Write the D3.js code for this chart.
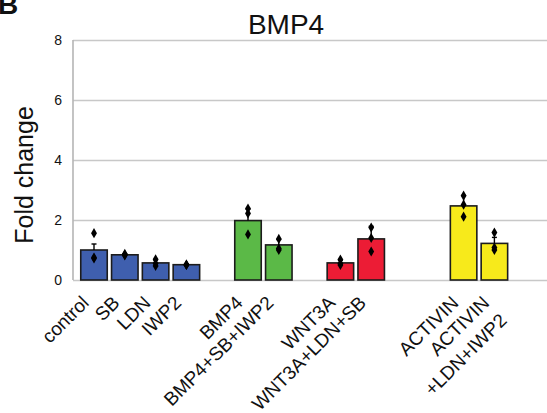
<!DOCTYPE html>
<html>
<head>
<meta charset="utf-8">
<script src="https://cdn.jsdelivr.net/npm/d3@7"></script>
<style>
  body { margin: 0; background: #fff; }
  text { font-family: "Liberation Sans", Arial, sans-serif; fill: #111; }
</style>
</head>
<body>
<div id="chart"></div>
<script>
// Chart data
var categories = ["control", "SB", "LDN", "IWP2", "BMP4", "BMP4+SB+IWP2",
                  "WNT3A", "WNT3A+LDN+SB", "ACTIVIN", "ACTIVIN\n+LDN+IWP2"];
var groups = ["base", "base", "base", "base", "bmp", "bmp", "wnt", "wnt", "act", "act"];
var foldChange = [1.0, 0.84, 0.57, 0.51, 1.98, 1.17, 0.57, 1.37, 2.47, 1.22];
var errors = [0.2, 0.03, 0.1, 0.03, 0.38, 0.18, 0.09, 0.42, 0.35, 0.2];
var replicates = [
    [1.56, 0.75, 0.72],
    [0.87, 0.84, 0.82],
    [0.69, 0.55, 0.47],
    [0.52, 0.50, 0.50],
    [2.38, 2.22, 1.52],
    [1.37, 1.05, 1.0],
    [0.68, 0.55, 0.5],
    [1.75, 1.4, 0.95],
    [2.81, 2.51, 2.11],
    [1.58, 1.08, 1.0]
];
var yTicks = [0, 2, 4, 6, 8];
var groupColors = { base: "#3f5fae", bmp: "#5bb947", wnt: "#ec1c35", act: "#f7ea1b" };

var width = 547;
var height = 413;
var margin = { top: 40, right: 0, bottom: 133, left: 73 };

// empty slots between the groups
var gapsBefore = { bmp: 1, wnt: 1, act: 2 };
var slots = [];
categories.forEach(function (c, i) {
    if (i > 0 && groups[i] !== groups[i - 1]) {
        for (var g = 0; g < gapsBefore[groups[i]]; g++) slots.push("gap" + i + "_" + g);
    }
    slots.push(c);
});

var svg = d3.select("#chart")
    .append("svg")
    .attr("width", width)
    .attr("height", height);

var x = d3.scaleBand()
    .domain(slots)
    .range([78.6, 509.8])
    .paddingInner(0.14)
    .paddingOuter(0.07);

var y = d3.scaleLinear()
    .domain([0, 8])
    .range([height - margin.bottom, margin.top]);

// gridlines + tick labels
var yAxis = d3.axisLeft(y)
    .tickValues(yTicks)
    .tickSize(-(width - margin.left))
    .tickPadding(11)
    .tickFormat(d3.format("d"));

var gy = svg.append("g")
    .attr("transform", "translate(" + margin.left + ",0)")
    .call(yAxis);
gy.select(".domain").remove();
gy.selectAll(".tick line")
    .attr("stroke", "#c8c8c8")
    .attr("stroke-width", 1.6);
gy.selectAll(".tick text")
    .style("font-size", "14px")
    .style("font-family", "Liberation Sans, Arial, sans-serif")
    .attr("fill", "#111");

// left axis line
svg.append("line")
    .attr("x1", margin.left).attr("x2", margin.left)
    .attr("y1", y(8)).attr("y2", y(0))
    .attr("stroke", "#b5b5b5")
    .attr("stroke-width", 1.6);

// bars
var idx = d3.range(categories.length);
svg.selectAll("rect.bar")
    .data(idx)
    .enter()
    .append("rect")
        .attr("class", "bar")
        .attr("x", function (i) { return x(categories[i]); })
        .attr("width", x.bandwidth())
        .attr("y", function (i) { return y(foldChange[i]); })
        .attr("height", function (i) { return y(0) - y(foldChange[i]); })
        .attr("fill", function (i) { return groupColors[groups[i]]; })
        .attr("stroke", "#1c1c1c")
        .attr("stroke-width", 1.6);

// error bars (upper half only)
var cx = function (i) { return x(categories[i]) + x.bandwidth() / 2; };
svg.selectAll("line.err")
    .data(idx)
    .enter()
    .append("line")
        .attr("class", "err")
        .attr("x1", cx).attr("x2", cx)
        .attr("y1", function (i) { return y(foldChange[i]); })
        .attr("y2", function (i) { return y(foldChange[i] + errors[i]); })
        .attr("stroke", "#000")
        .attr("stroke-width", 1.4);
svg.selectAll("line.cap")
    .data(idx)
    .enter()
    .append("line")
        .attr("class", "cap")
        .attr("x1", function (i) { return cx(i) - 2.5; })
        .attr("x2", function (i) { return cx(i) + 2.5; })
        .attr("y1", function (i) { return y(foldChange[i] + errors[i]); })
        .attr("y2", function (i) { return y(foldChange[i] + errors[i]); })
        .attr("stroke", "#000")
        .attr("stroke-width", 1.4);

// replicate points
var points = [];
replicates.forEach(function (vals, i) {
    vals.forEach(function (v) { points.push({ i: i, v: v }); });
});
svg.selectAll("path.pt")
    .data(points)
    .enter()
    .append("path")
        .attr("class", "pt")
        .attr("d", d3.symbol().type(d3.symbolDiamond).size(30))
        .attr("transform", function (d) {
            return "translate(" + cx(d.i) + "," + y(d.v) + ")";
        })
        .attr("fill", "#000");

// category labels
var labels = svg.selectAll("text.cat")
    .data(idx)
    .enter()
    .append("text")
        .attr("class", "cat")
        .attr("text-anchor", "end")
        .style("font-size", "19px")
        .attr("transform", function (i) {
            return "translate(" + (cx(i) - 4) + "," + (y(0) + 24) + ") rotate(-45)";
        });
labels.each(function (i) {
    var lines = categories[i].split("\n");
    var t = d3.select(this);
    lines.forEach(function (l, k) {
        t.append("tspan")
            .attr("x", 0)
            .attr("dy", k === 0 ? 0 : "1.3em")
            .text(l);
    });
});

// title
svg.append("text")
    .attr("x", 286)
    .attr("y", 34)
    .attr("text-anchor", "middle")
    .style("font-size", "28px")
    .text("BMP4");

// y axis title
svg.append("text")
    .attr("transform", "translate(33,175) rotate(-90)")
    .attr("text-anchor", "middle")
    .style("font-size", "25px")
    .text("Fold change");

// panel letter, cut off at the top
svg.append("text")
    .attr("x", -2)
    .attr("y", 14)
    .style("font-size", "28px")
    .style("font-weight", "bold")
    .text("B");
</script>
</body>
</html>
